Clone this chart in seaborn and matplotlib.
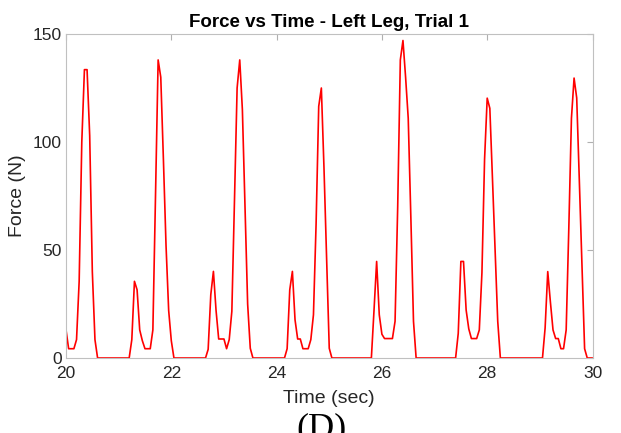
import matplotlib
matplotlib.use("Agg")
import matplotlib.pyplot as plt
import seaborn as sns
import pandas as pd

# ---- data ----
time_sec = [
    20.00, 20.05, 20.10, 20.15, 20.20, 20.25, 20.30, 20.35, 20.40, 20.45, 20.50, 20.55, 20.60,
    21.20, 21.25, 21.30, 21.35, 21.40, 21.45, 21.50, 21.55, 21.60, 21.65, 21.70, 21.75, 21.80,
    21.85, 21.90, 21.95, 22.00, 22.05,
    22.65, 22.70, 22.75, 22.80, 22.85, 22.90, 22.95, 23.00, 23.05, 23.10, 23.15, 23.20, 23.25,
    23.30, 23.35, 23.40, 23.45, 23.50, 23.55,
    24.15, 24.20, 24.25, 24.30, 24.35, 24.40, 24.45, 24.50, 24.55, 24.60, 24.65, 24.70, 24.75,
    24.80, 24.85, 24.90, 24.95, 25.00, 25.05,
    25.80, 25.85, 25.90, 25.95, 26.00, 26.05, 26.10, 26.15, 26.20, 26.25, 26.30, 26.35, 26.40,
    26.45, 26.50, 26.55, 26.60, 26.65,
    27.40, 27.45, 27.50, 27.55, 27.60, 27.65, 27.70, 27.75, 27.80, 27.85, 27.90, 27.95, 28.00,
    28.05, 28.10, 28.15, 28.20, 28.25,
    29.05, 29.10, 29.15, 29.20, 29.25, 29.30, 29.35, 29.40, 29.45, 29.50, 29.55, 29.60, 29.65,
    29.70, 29.75, 29.80, 29.85, 29.90, 30.00,
]
force_n = [
    13.1, 4.3, 4.3, 4.3, 8.5, 35.5, 100.0, 133.5, 133.5, 103.0, 40.0, 8.5, 0.0,
    0.0, 8.5, 35.5, 31.6, 13.0, 8.0, 4.3, 4.3, 4.3, 13.0, 75.0, 138.0, 130.0,
    92.0, 52.0, 22.0, 8.0, 0.0,
    0.0, 4.0, 29.3, 40.1, 22.0, 8.8, 8.8, 8.8, 4.3, 8.5, 21.6, 73.0, 125.0,
    138.0, 115.0, 70.0, 25.0, 4.5, 0.0,
    0.0, 4.3, 31.6, 40.1, 17.7, 8.8, 8.8, 4.3, 4.3, 4.3, 8.5, 20.0, 62.0,
    116.5, 125.0, 88.0, 46.0, 4.5, 0.0,
    0.0, 22.0, 44.7, 20.0, 11.0, 9.0, 9.0, 9.0, 9.0, 17.0, 70.0, 138.0, 147.0,
    130.0, 111.0, 65.0, 17.0, 0.0,
    0.0, 11.4, 44.7, 44.7, 22.2, 13.5, 9.0, 9.0, 9.0, 13.0, 39.5, 92.0, 120.3,
    115.6, 83.0, 50.0, 17.0, 0.0,
    0.0, 13.9, 40.0, 26.0, 13.0, 9.0, 9.0, 4.3, 4.3, 13.0, 60.0, 111.0, 129.6,
    120.4, 82.0, 43.0, 4.3, 0.0, 0.0,
]
x_ticks = [20, 22, 24, 26, 28, 30]
y_ticks = [0, 50, 100, 150]
title_text = "Force vs Time - Left Leg, Trial 1"
x_label = "Time (sec)"
y_label = "Force (N)"
panel_label = "(D)"

df = pd.DataFrame({"Time": time_sec, "Force": force_n})

sns.set_theme(style="white")
plt.rcParams["font.family"] = ["Liberation Sans", "DejaVu Sans"]

fig = plt.figure(figsize=(6.21, 4.33), dpi=100)
ax = fig.add_axes([66 / 621, 1 - 358 / 433, (592.5 - 66) / 621, (358 - 34) / 433])

sns.lineplot(data=df, x="Time", y="Force", ax=ax, color="#ff0000", linewidth=1.2,
             estimator=None, sort=False)

ax.set_xlim(20, 30)
ax.set_ylim(0, 150)
ax.set_xticks(x_ticks)
ax.set_yticks(y_ticks)
ax.tick_params(axis="both", which="both", direction="in", length=4, width=0.8,
               color="#b0b0b0", labelsize=12.5, labelcolor="#262626",
               top=True, right=True)
ax.tick_params(axis="x", pad=6)
ax.tick_params(axis="y", pad=3)
for s in ax.spines.values():
    s.set_color("#c0c0c0")
    s.set_linewidth(0.8)
    s.set_visible(True)

ax.set_title(title_text, fontsize=13.5, fontweight="bold", color="black", pad=5)
ax.set_xlabel(x_label, fontsize=14, color="#262626", labelpad=6)
ax.set_ylabel(y_label, fontsize=14, color="#262626", labelpad=5)

fig.text(322 / 621, 1 - 412 / 433, panel_label, fontsize=26,
         family=["Liberation Serif", "DejaVu Serif"], ha="center", va="top",
         color="black")

fig.savefig("out.png", dpi=100)
